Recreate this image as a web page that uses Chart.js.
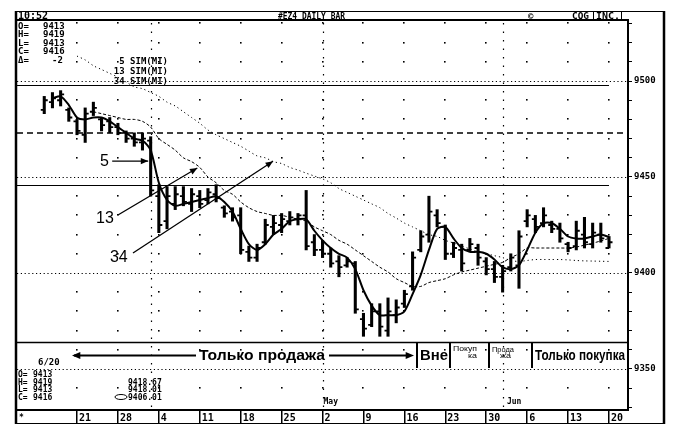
<!DOCTYPE html>
<html><head><meta charset="utf-8">
<script src="https://cdn.jsdelivr.net/npm/chart.js@4/dist/chart.umd.min.js"></script>
<style>html,body{margin:0;padding:0;background:#fff;}canvas{display:block;}</style>
</head><body>
<canvas id="c" width="683" height="426"></canvas>
<script>
// ---- data (trading days from 15 Mar 1994 to 20 Jun 1994, index 0..69) ----
const opens  = [9485,9489,9490,9485,9479,9472,9484,9480,9479,9476,
                9473,9470,9468,9469,9440,9427,9436,9440,9436,9440,
                9438,9441,9434,9432,9430,9411,9408,9416,9424,9425,
                9427,9428,9430,9416,9412,9410,9406,9404,9405,9376,
                9373,9380,9370,9378,9384,9393,9412,9420,9430,9424,
                9410,9412,9412,9413,9406,9402,9398,9403,9404,9427,
                9428,9426,9425,9423,9415,9414,9420,9415,9420,9413];
const highs  = [9492,9494,9495,9486,9480,9486,9489,9481,9481,9478,
                9474,9473,9473,9471,9446,9445,9445,9445,9444,9443,
                9444,9446,9435,9434,9434,9414,9415,9428,9430,9431,
                9432,9431,9443,9420,9417,9413,9409,9408,9406,9379,
                9384,9384,9387,9386,9391,9411,9422,9440,9433,9425,
                9416,9415,9418,9415,9408,9406,9404,9410,9422,9433,
                9430,9434,9427,9426,9416,9427,9429,9426,9426,9419];
const lows   = [9483,9486,9487,9479,9472,9468,9482,9474,9473,9472,
                9468,9466,9464,9440,9421,9423,9433,9435,9432,9434,
                9436,9437,9429,9427,9410,9406,9406,9415,9420,9421,
                9425,9425,9412,9409,9408,9403,9398,9403,9379,9367,
                9372,9367,9367,9374,9382,9391,9411,9416,9424,9407,
                9408,9401,9411,9404,9399,9395,9390,9401,9392,9424,
                9421,9424,9421,9416,9411,9412,9413,9413,9416,9413];
const closes = [9490,9491,9493,9481,9474,9483,9486,9477,9476,9473,
                9470,9468,9470,9443,9425,9440,9441,9437,9441,9436,
                9442,9439,9431,9429,9412,9408,9413,9425,9426,9428,
                9429,9430,9414,9412,9410,9405,9403,9406,9381,9371,
                9380,9372,9380,9382,9389,9408,9419,9432,9426,9410,
                9413,9405,9415,9408,9402,9398,9401,9408,9419,9430,
                9424,9430,9423,9418,9413,9422,9416,9421,9418,9416];
const ma5  = [null,9491,9492,9487.5,9481,9480,9481,9481,9479,9476,
              9473,9470,9469,9464,9447,9438,9435,9436,9437,9438,
              9439,9440,9437,9432,9423,9415,9412,9415,9420,9423,
              9427,9428,9428,9422,9417,9413,9410,9408,9402,9391,
              9383,9378,9378,9378,9380,9389,9399,9412,9423,9424,
              9418,9413,9411,9411,9410,9407,9403,9402,9404,9412,
              9421,9426,9426,9423,9419,9418,9418,9419,9420,9418.67];
const ma13 = [null,null,null,null,null,null,9484,9483,9482,9481,
              9480,9480,9479,9476,9470,9467,9464,9460,9458,9455,
              9450,9447,9443,9441,9437,9434,9432,9431,9430,9430,
              9429,9428,9427,9424,9422,9420,9417,9415,9412,9409,
              9406,9403,9400.5,9397,9395,9393,9393,9395,9396,9397,
              9399,9400.5,9401.5,9402.5,9403.5,9404.5,9405.5,9408,9410,9413,
              9413,9413,9413,9413,9413,9413.5,9414.5,9415.5,9416.7,9418.01];
const ma34 = [null,null,null,null,9513,9511,9508,9506,9504,9502,
              9499.5,9497,9496,9494,9492,9489,9487,9484,9481,9478,
              9474.5,9472,9470,9468,9466,9463.5,9461,9460,9458,9457,
              9455,9453.6,9452,9450.5,9449,9447,9444,9442,9440,9438,
              9436,9434,9431,9428.6,9426,9424,9422,9420,9419,9417,
              9415.6,9414,9412.5,9411,9410,9409,9408,9406.5,9406,9406.5,
              9407,9407,9407,9407,9406.8,9406.5,9406.3,9406.2,9406.1,9406.01];
// weekly date ticks (Mondays) and month markers
const tickIdx    = [4,9,14,19,24,29,34,39,44,49,54,59,64,69];
const tickLabels = ['21','28','4','11','18','25','2','9','16','23','30','6','13','20'];
const monthIdx   = [13,34,56];
const monthNames = [{i:34,t:'May'},{i:56.4,t:'Jun'}];
// price levels
const dottedLevels = [9500,9450,9400,9350];
const solidLevels  = [9498,9446];
const dashedLevels = [9473];
// annotation arrows in (day index, price)
const arrows = [
  {from:[8.3,9458.3], to:[12.7,9458.3]},
  {from:[9.0,9430.2], to:[18.7,9454.7]},
  {from:[10.84,9410.4], to:[27.95,9458.2]}
];
const arrowLabels = [
  {t:'5',  at:[7.9,9458.3]},
  {t:'13', at:[8.5,9428.6]},
  {t:'34', at:[10.2,9408.3]}
];

const MONO = '"DejaVu Sans Mono", monospace';
const SANS = '"Liberation Sans", Arial, sans-serif';

function fitText(ctx, txt, x, y, w, font){
  ctx.save();
  ctx.font = font;
  const m = ctx.measureText(txt).width;
  ctx.translate(x, y);
  ctx.scale(w / m, 1);
  ctx.textAlign = 'left';
  ctx.fillText(txt, 0, 0);
  ctx.restore();
}
function arrowHead(ctx, x1, y1, x2, y2, size){
  const a = Math.atan2(y2 - y1, x2 - x1);
  ctx.beginPath();
  ctx.moveTo(x2, y2);
  ctx.lineTo(x2 - size*Math.cos(a - 0.4), y2 - size*Math.sin(a - 0.4));
  ctx.lineTo(x2 - size*Math.cos(a + 0.4), y2 - size*Math.sin(a + 0.4));
  ctx.closePath();
  ctx.fill();
}

const deco = {
  id: 'deco',
  beforeDatasetsDraw(chart){
    const {ctx, chartArea: ca, scales: {x: xs, y: ys}} = chart;
    ctx.save();
    ctx.fillStyle = '#000';
    ctx.strokeStyle = '#000';
    // dot grid at weekly columns
    for (const v of tickIdx){
      const x = Math.round(xs.getPixelForValue(v));
      for (let p = 9340; p <= 9530; p += 10){
        if (p % 50 === 0) continue;
        const y = Math.round(ys.getPixelForValue(p));
        ctx.fillRect(x - 1, y - 1, 1.6, 1.6);
      }
    }
    // month boundary columns
    ctx.lineWidth = 1.2;
    ctx.setLineDash([1.5, 7]);
    for (const v of monthIdx){
      const x = Math.round(xs.getPixelForValue(v)) + 0.5;
      ctx.beginPath(); ctx.moveTo(x, ca.top + 3); ctx.lineTo(x, ca.bottom); ctx.stroke();
    }
    // dotted levels
    ctx.lineWidth = 1;
    ctx.setLineDash([1.2, 2.6]);
    for (const p of dottedLevels){
      const y = Math.round(ys.getPixelForValue(p)) + 0.5;
      ctx.beginPath(); ctx.moveTo(ca.left, y); ctx.lineTo(ca.right, y); ctx.stroke();
    }
    // dashed level
    ctx.lineWidth = 1.6;
    ctx.setLineDash([6, 4]);
    for (const p of dashedLevels){
      const y = Math.round(ys.getPixelForValue(p));
      ctx.beginPath(); ctx.moveTo(ca.left, y); ctx.lineTo(ca.right, y); ctx.stroke();
    }
    // solid levels
    ctx.setLineDash([]);
    ctx.lineWidth = 1;
    for (const p of solidLevels){
      const y = Math.round(ys.getPixelForValue(p)) + 0.5;
      ctx.beginPath(); ctx.moveTo(ca.left, y); ctx.lineTo(xs.getPixelForValue(69), y); ctx.stroke();
    }
    ctx.restore();
  },
  afterDatasetsDraw(chart){
    const {ctx, chartArea: ca, scales: {x: xs, y: ys}} = chart;
    ctx.save();
    ctx.strokeStyle = '#000';
    ctx.fillStyle = '#000';
    // open / close ticks
    ctx.lineWidth = 1.8;
    for (let i = 0; i < opens.length; i++){
      const x = xs.getPixelForValue(i);
      const yo = ys.getPixelForValue(opens[i]);
      const yc = ys.getPixelForValue(closes[i]);
      ctx.beginPath();
      ctx.moveTo(x - 3.5, yo); ctx.lineTo(x, yo);
      ctx.moveTo(x, yc); ctx.lineTo(x + 3.5, yc);
      ctx.stroke();
    }
    // annotation arrows
    ctx.lineWidth = 1.3;
    for (const a of arrows){
      const x1 = xs.getPixelForValue(a.from[0]), y1 = ys.getPixelForValue(a.from[1]);
      const x2 = xs.getPixelForValue(a.to[0]),   y2 = ys.getPixelForValue(a.to[1]);
      ctx.beginPath(); ctx.moveTo(x1, y1); ctx.lineTo(x2, y2); ctx.stroke();
      arrowHead(ctx, x1, y1, x2, y2, 8);
    }
    ctx.font = '16px ' + SANS;
    ctx.textAlign = 'right';
    ctx.textBaseline = 'middle';
    for (const l of arrowLabels){
      ctx.fillText(l.t, xs.getPixelForValue(l.at[0]), ys.getPixelForValue(l.at[1]) + 1);
    }

    // ---- frame ----
    ctx.setLineDash([]);
    ctx.lineWidth = 2.5;
    ctx.beginPath(); ctx.moveTo(16, 11); ctx.lineTo(16, 424); ctx.stroke();
    ctx.beginPath(); ctx.moveTo(664, 11); ctx.lineTo(664, 424); ctx.stroke();
    ctx.lineWidth = 1.2;
    ctx.beginPath(); ctx.moveTo(16, 11.5); ctx.lineTo(665, 11.5); ctx.stroke();
    ctx.beginPath(); ctx.moveTo(16, 423.5); ctx.lineTo(665, 423.5); ctx.stroke();
    ctx.lineWidth = 2;
    ctx.beginPath(); ctx.moveTo(16, ca.top); ctx.lineTo(ca.right + 1, ca.top); ctx.stroke();
    // panel separator
    ctx.lineWidth = 1.5;
    ctx.beginPath(); ctx.moveTo(16, 342.5); ctx.lineTo(ca.right, 342.5); ctx.stroke();

    // ---- header ----
    ctx.textAlign = 'left';
    ctx.textBaseline = 'alphabetic';
    ctx.font = 'bold 10px ' + MONO;
    ctx.fillText('10:52', 18, 19);
    fitText(ctx, '#EZ4 DAILY BAR', 278, 18.5, 67, 'bold 9px ' + MONO);
    ctx.font = 'bold 9px ' + MONO;
    ctx.fillText('©', 528, 18.5);
    fitText(ctx, 'CQG', 572, 18.5, 17, 'bold 9px ' + MONO);
    fitText(ctx, 'INC.', 596, 18.5, 24, 'bold 9px ' + MONO);
    ctx.lineWidth = 1;
    ctx.strokeRect(593.5, 11.5, 28, 8);

    // ---- top-left OHLC block ----
    const tl = [['O=','9413',43],['H=','9419',43],['L=','9413',43],['C=','9416',43],['Δ=','-2',52]];
    ctx.font = 'bold 9px ' + MONO;
    tl.forEach((r, k) => {
      const y = 29 + k * 8.4;
      ctx.fillText(r[0], 18, y);
      ctx.fillText(r[1], r[2], y);
    });
    // MA legend
    ctx.textAlign = 'right';
    ['5 SIM(MI)', '13 SIM(MI)', '34 SIM(MI)'].forEach((t, k) => {
      ctx.fillText(t, 168, 64 + k * 10);
    });

    // ---- bottom panel text ----
    ctx.textAlign = 'left';
    ctx.font = 'bold 9px ' + MONO;
    ctx.fillText('6/20', 38, 365);
    const bl = [['O=','9413'],['H=','9419'],['L=','9413'],['C=','9416']];
    ctx.font = 'bold 8px ' + MONO;
    bl.forEach((r, k) => {
      const y = 377 + k * 7.6;
      ctx.fillText(r[0], 18, y);
      ctx.fillText(r[1], 33, y);
    });
    ['9418.67', '9418.01', '9406.01'].forEach((t, k) => {
      ctx.fillText(t, 128, 384.6 + k * 7.6);
    });
    ctx.lineWidth = 1;
    ctx.beginPath(); ctx.ellipse(121, 397, 6, 2.5, 0, 0, Math.PI * 2); ctx.stroke();
    // month names
    ctx.font = 'bold 8px ' + MONO;
    for (const m of monthNames){
      ctx.fillText(m.t, xs.getPixelForValue(m.i) + 1, 404);
    }
    ctx.fillText('*', 19, 420);

    // regime annotation row
    ctx.lineWidth = 2;
    ctx.beginPath(); ctx.moveTo(74, 355.5); ctx.lineTo(196, 355.5); ctx.stroke();
    arrowHead(ctx, 90, 355.5, 72, 355.5, 9);
    ctx.beginPath(); ctx.moveTo(329, 355.5); ctx.lineTo(410, 355.5); ctx.stroke();
    arrowHead(ctx, 395, 355.5, 414, 355.5, 9);
    fitText(ctx, 'Только продажа', 199, 360, 126, 'bold 14px ' + SANS);
    fitText(ctx, 'Вне', 420, 360, 28, 'bold 14px ' + SANS);
    fitText(ctx, 'Только покупка', 535, 360, 90, 'bold 14px ' + SANS);
    fitText(ctx, 'Покуп', 453, 351, 24, '8px ' + SANS);
    fitText(ctx, 'ка', 468, 357.5, 9, '8px ' + SANS);
    fitText(ctx, 'Прода', 492, 352, 22, '8px ' + SANS);
    fitText(ctx, 'жа', 500, 358, 11, '8px ' + SANS);
    ctx.lineWidth = 2;
    [417, 450, 489, 532].forEach(x => {
      ctx.beginPath(); ctx.moveTo(x, 343); ctx.lineTo(x, 368); ctx.stroke();
    });
    ctx.restore();
  }
};

const chart = new Chart(document.getElementById('c'), {
  type: 'line',
  data: {
    datasets: [
      {type: 'bar', data: highs.map((h, i) => ({x: i, y: [lows[i], h]})),
       backgroundColor: '#000', borderWidth: 0, barThickness: 2.4, order: 4},
      {type: 'line', data: ma5.map((v, i) => ({x: i, y: v})), borderColor: '#000',
       borderWidth: 2, pointRadius: 0, tension: 0.25, order: 1},
      {type: 'line', data: ma13.map((v, i) => ({x: i, y: v})), borderColor: '#000',
       borderWidth: 1, borderDash: [3, 2], pointRadius: 0, tension: 0.3, order: 2},
      {type: 'line', data: ma34.map((v, i) => ({x: i, y: v})), borderColor: '#000',
       borderWidth: 1, borderDash: [1.2, 3], pointRadius: 0, tension: 0.3, order: 3}
    ]
  },
  options: {
    responsive: false,
    animation: false,
    devicePixelRatio: 1,
    layout: {padding: {left: 17, top: 20, right: 20, bottom: 3}},
    plugins: {legend: {display: false}, tooltip: {enabled: false}},
    scales: {
      x: {
        type: 'linear', position: 'bottom', min: -3.33, max: 71.32, offset: false,
        afterBuildTicks: s => { s.ticks = tickIdx.map(v => ({value: v})); },
        afterFit: s => { s.height = 13; },
        ticks: {
          autoSkip: false, maxRotation: 0, align: 'start', labelOffset: 2, padding: -11,
          color: '#000', font: {family: MONO, size: 10, weight: 'bold'},
          callback: v => tickLabels[tickIdx.indexOf(v)]
        },
        grid: {offset: false, drawOnChartArea: false, drawTicks: true, tickLength: 13, color: '#000', lineWidth: 1.5},
        border: {display: true, color: '#000', width: 2}
      },
      y: {
        type: 'linear', position: 'right', min: 9328.6, max: 9531.8,
        afterFit: s => { s.width = 35; },
        ticks: {
          stepSize: 10, includeBounds: false, padding: 2, color: '#000',
          font: {family: MONO, size: 9, weight: 'bold'},
          callback: v => (v % 50 === 0 ? String(v) : '')
        },
        grid: {drawOnChartArea: false, drawTicks: true, tickLength: 4, color: '#000', lineWidth: 1},
        border: {display: true, color: '#000', width: 2}
      }
    }
  },
  plugins: [deco]
});
</script>
</body></html>
